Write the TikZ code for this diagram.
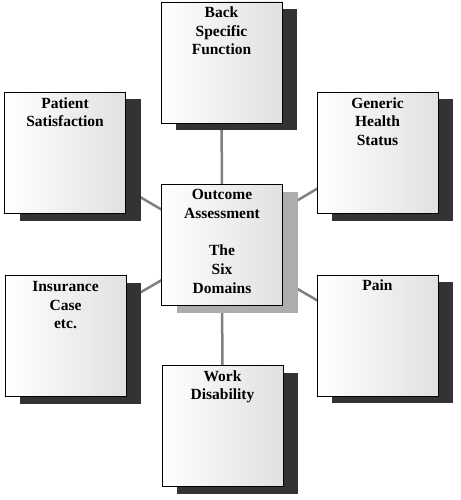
\documentclass[tikz,border=0pt]{standalone}
\usepackage{fontspec}
\setmainfont{Liberation Serif}
\pgfdeclarelayer{bg}
\pgfsetlayers{bg,main}
\begin{document}
\begin{tikzpicture}[x=1pt,y=-1pt,
  box/.style={draw=black, line width=0.9pt, minimum width=121pt, minimum height=121pt, inner sep=0pt, left color=white, right color=black!12},
  darkshadow/.style={fill=black!80, draw=none, minimum width=121pt, minimum height=121pt, inner sep=0pt},
  lightshadow/.style={fill=black!32, draw=none, minimum width=121pt, minimum height=121pt, inner sep=0pt},
  conn/.style={draw=black!50, line width=2.5pt},
  txt/.style={font=\bfseries\fontsize{15.5}{18.7}\selectfont, align=center, inner sep=0pt}
]
\useasboundingbox (0,0) rectangle (460,500);
% shadows
\node[darkshadow] (sback) at (236.5,69.5) {};
\node[lightshadow] (scenter) at (237,252) {};
\node[darkshadow] (spatient) at (80,160) {};
\node[darkshadow] (sgeneric) at (392.5,160) {};
\node[darkshadow] (sinsurance) at (80.5,343) {};
\node[darkshadow] (spain) at (392.5,342.5) {};
\node[darkshadow] (swork) at (237.5,433) {};
% boxes
\node[box] (back) at (221.5,62.5) {};
\node[box] (center) at (222,245) {};
\node[box] (patient) at (65,153) {};
\node[box] (generic) at (377.5,153) {};
\node[box] (insurance) at (65.5,336) {};
\node[box] (pain) at (377.5,335.5) {};
\node[box] (work) at (222.5,426) {};
% texts
\node[txt, below=5pt] (tback) at (back.north) {Back\\Specific\\Function};
\node[txt, below=5pt] (tcenter) at (center.north) {Outcome\\Assessment\\\mbox{}\\The\\Six\\Domains};
\node[txt, below=5pt] (tpatient) at (patient.north) {Patient\\Satisfaction};
\node[txt, below=5pt] (tgeneric) at (generic.north) {Generic\\Health\\Status};
\node[txt, below=6pt] (tinsurance) at (insurance.north) {Insurance\\Case\\etc.};
\node[txt, below=5pt] (tpain) at (pain.north) {Pain};
\node[txt, below=5pt] (twork) at (work.north) {Work\\Disability};
% connectors
\begin{pgfonlayer}{bg}
\draw[conn] (center.center) -- (back.center);
\draw[conn] (center.center) -- (patient.center);
\draw[conn] (center.center) -- (generic.center);
\draw[conn] (center.center) -- (insurance.center);
\draw[conn] (center.center) -- (pain.center);
\draw[conn] (center.center) -- (work.center);
\end{pgfonlayer}
\end{tikzpicture}
\end{document}
